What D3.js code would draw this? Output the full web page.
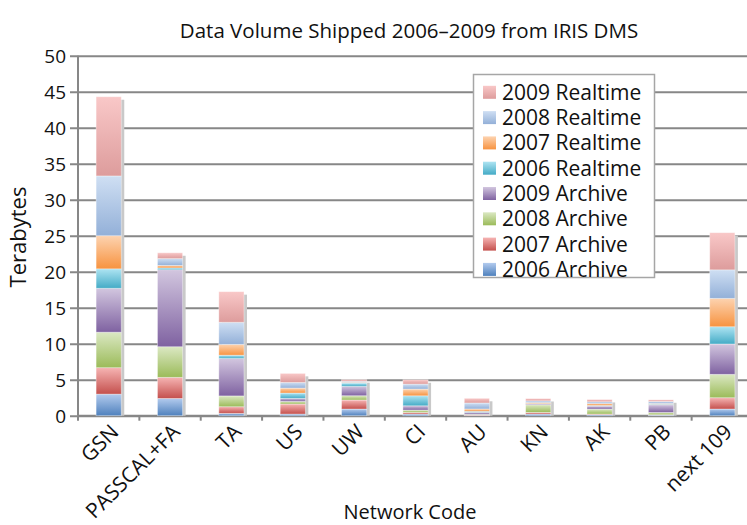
<!doctype html>
<html lang="en">
<head>
<meta charset="utf-8">
<title>Data Volume Shipped 2006-2009 from IRIS DMS</title>
<script src="https://cdn.jsdelivr.net/npm/d3@7"></script>
<style>
  body { margin: 0; background: #fff; }
  svg text { font-family: "Open Sans", "Noto Sans", sans-serif; fill: #111; }
  .grid line { stroke: #878787; stroke-width: 2px; }
  .grid path { display: none; }
</style>
</head>
<body>
<svg width="747" height="525"></svg>
<script>
// categories on the x axis
var networks = ["GSN", "PASSCAL+FA", "TA", "US", "UW", "CI", "AU", "KN", "AK", "PB", "next 109"];

// stack order, bottom to top
var seriesNames = ["2006 Archive", "2007 Archive", "2008 Archive", "2009 Archive",
                   "2006 Realtime", "2007 Realtime", "2008 Realtime", "2009 Realtime"];

// terabytes, one value per network
var archive2006  = [3.0,  2.4,  0.33, 0.23, 0.93, 0.23, 0.05, 0.23, 0.14, 0.09, 0.93];
var archive2007  = [3.67, 2.93, 0.92, 1.39, 1.25, 0.23, 0.05, 0.23, 0.09, 0.05, 1.57];
var archive2008  = [4.93, 4.25, 1.5,  0.37, 0.6,  0.32, 0.1,  1.06, 0.69, 0.32, 3.25];
var archive2009  = [6.1,  10.7, 5.2,  0.42, 1.3,  0.6,  0.28, 0.12, 0.42, 1.06, 4.21];
var realtime2006 = [2.7,  0.25, 0.46, 0.74, 0.46, 1.39, 0.14, 0.06, 0.09, 0.09, 2.4];
var realtime2007 = [4.6,  0.35, 1.5,  0.69, 0.1,  0.93, 0.32, 0.14, 0.28, 0.09, 3.94];
var realtime2008 = [8.3,  0.95, 3.07, 0.79, 0.14, 0.69, 0.83, 0.23, 0.23, 0.28, 3.96];
var realtime2009 = [11.0, 0.8,  4.25, 1.25, 0.23, 0.6,  0.65, 0.32, 0.32, 0.23, 5.16];

var yTicks = [0, 5, 10, 15, 20, 25, 30, 35, 40, 45, 50];

// gradient colours (top, bottom) per series
var topColors    = ["#b3cbee", "#f6b4b3", "#dbe8c3", "#d2c6df", "#aee4f2", "#fdd3b0", "#cfdff3", "#f9c8c8"];
var bottomColors = ["#4f81bd", "#c4504d", "#9bbb59", "#7f62a1", "#44abc6", "#f79340", "#93b0d8", "#dd9c9c"];

var values = [archive2006, archive2007, archive2008, archive2009,
              realtime2006, realtime2007, realtime2008, realtime2009];

var table = networks.map(function(n, i) {
    var row = {network: n};
    seriesNames.forEach(function(s, j) { row[s] = values[j][i]; });
    return row;
});

var svg = d3.select("svg");
var plot = {left: 78, right: 753, top: 55.7, bottom: 415.7};

var x = d3.scaleBand()
    .domain(networks)
    .range([plot.left, plot.right])
    .paddingInner(0.59)
    .paddingOuter(0.295);

var y = d3.scaleLinear()
    .domain([0, 50])
    .range([plot.bottom, plot.top]);

var defs = svg.append("defs");
seriesNames.forEach(function(s, j) {
    var g = defs.append("linearGradient")
        .attr("id", "grad" + j)
        .attr("x1", 0).attr("y1", 0).attr("x2", 0).attr("y2", 1);
    g.append("stop").attr("offset", "0%").attr("stop-color", topColors[j]);
    g.append("stop").attr("offset", "100%").attr("stop-color", bottomColors[j]);
});

// title
svg.append("text")
    .attr("x", 409)
    .attr("y", 38)
    .attr("text-anchor", "middle")
    .style("font-size", "20.5px")
    .text("Data Volume Shipped 2006\u20132009 from IRIS DMS");

// horizontal gridlines
svg.append("g")
    .attr("class", "grid")
    .attr("transform", "translate(" + plot.left + ",0)")
    .call(d3.axisLeft(y).tickValues(yTicks).tickSize(-(plot.right - plot.left)).tickFormat(""))
    .selectAll("line")
    .attr("x1", -8);

// y tick labels
svg.append("g")
    .selectAll("text")
    .data(yTicks)
    .enter().append("text")
    .attr("x", 66)
    .attr("y", function(d) { return y(d); })
    .attr("dy", "0.36em")
    .attr("text-anchor", "end")
    .style("font-size", "19px")
    .text(function(d) { return d; });

// y axis line
svg.append("line")
    .attr("x1", plot.left).attr("x2", plot.left)
    .attr("y1", plot.top).attr("y2", plot.bottom)
    .attr("stroke", "#878787").attr("stroke-width", 2);

// x axis with category tick marks
var xAxis = svg.append("g")
    .attr("transform", "translate(0," + plot.bottom + ")");
xAxis.append("line")
    .attr("x1", plot.left).attr("x2", plot.right)
    .attr("stroke", "#878787").attr("stroke-width", 2);
xAxis.selectAll(".tk")
    .data(networks)
    .enter().append("line")
    .attr("class", "tk")
    .attr("x1", function(d) { return x(d) - x.step() * x.paddingOuter(); })
    .attr("x2", function(d) { return x(d) - x.step() * x.paddingOuter(); })
    .attr("y1", 0).attr("y2", 5)
    .attr("stroke", "#878787").attr("stroke-width", 2);

var stacked = d3.stack().keys(seriesNames)(table);

// bar shadows
var totals = table.map(function(r) { return d3.sum(seriesNames, function(s) { return r[s]; }); });
svg.append("g")
    .selectAll("rect")
    .data(networks)
    .enter().append("rect")
    .attr("x", function(d) { return x(d) + 3; })
    .attr("y", function(d, i) { return y(totals[i]) + 3; })
    .attr("width", x.bandwidth())
    .attr("height", function(d, i) { return plot.bottom - y(totals[i]) - 3; })
    .attr("fill", "#c9c9c9");

// stacked segments
svg.append("g")
    .selectAll("g")
    .data(stacked)
    .enter().append("g")
    .attr("fill", function(d, j) { return "url(#grad" + j + ")"; })
    .selectAll("rect")
    .data(function(d) { return d; })
    .enter().append("rect")
    .attr("x", function(d) { return x(d.data.network); })
    .attr("y", function(d) { return y(d[1]); })
    .attr("width", x.bandwidth())
    .attr("height", function(d) { return y(d[0]) - y(d[1]); })
    .attr("stroke", "rgba(255,255,255,0.45)")
    .attr("stroke-width", 0.8);

// x tick labels, rotated
svg.append("g")
    .selectAll("text")
    .data(networks)
    .enter().append("text")
    .attr("transform", function(d) {
        return "translate(" + (x(d) + x.bandwidth() / 2 + 6) + "," + 428 + ") rotate(-45)";
    })
    .attr("text-anchor", "end")
    .attr("dy", "0.35em")
    .style("font-size", "21px")
    .text(function(d) { return d; });

// axis titles
svg.append("text")
    .attr("x", 410)
    .attr("y", 519)
    .attr("text-anchor", "middle")
    .style("font-size", "20px")
    .text("Network Code");

svg.append("text")
    .attr("transform", "translate(26,237) rotate(-90)")
    .attr("text-anchor", "middle")
    .style("font-size", "22px")
    .text("Terabytes");

// legend
var legend = svg.append("g");
legend.append("rect")
    .attr("x", 473.5).attr("y", 74.5)
    .attr("width", 181).attr("height", 203)
    .attr("fill", "#fff")
    .attr("stroke", "#a6a6a6").attr("stroke-width", 1.5);

var legendItems = legend.selectAll("g")
    .data(seriesNames.slice().reverse())
    .enter().append("g")
    .attr("transform", function(d, i) { return "translate(483," + (92.3 + i * 25.3) + ")"; });

legendItems.append("rect")
    .attr("x", 0).attr("y", -6.5)
    .attr("width", 13).attr("height", 13)
    .attr("fill", function(d) { return "url(#grad" + seriesNames.indexOf(d) + ")"; });

legendItems.append("text")
    .attr("x", 19)
    .attr("dy", "0.36em")
    .style("font-size", "21px")
    .text(function(d) { return d; });
</script>
</body>
</html>
